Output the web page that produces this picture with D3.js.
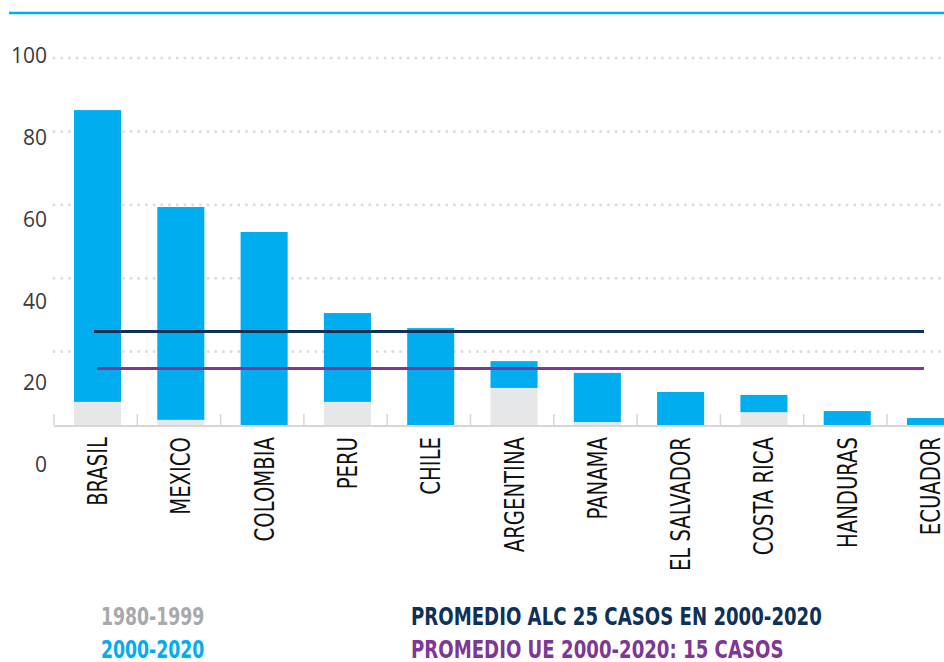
<!DOCTYPE html>
<html>
<head>
<meta charset="utf-8">
<script src="https://cdn.jsdelivr.net/npm/d3@7"></script>
<style>
  body { margin: 0; background: #fff; }
  svg { display: block; }
</style>
</head>
<body>
<div id="wrapper"></div>
<script>
// data
const countries = ["BRASIL", "MEXICO", "COLOMBIA", "PERU", "CHILE", "ARGENTINA",
  "PANAMA", "EL SALVADOR", "COSTA RICA", "HANDURAS", "ECUADOR"]
const cases1980 = [6.3, 1.4, 0, 6.3, 0, 10.1, 0.8, 0, 3.5, 0, 0]
const cases2000 = [79.5, 58.0, 52.6, 24.2, 26.4, 7.3, 13.4, 9.0, 4.7, 3.8, 1.9]
const yTicks = [0, 20, 40, 60, 80, 100]
const averages = [25.5, 15.4]   // ALC, UE
const seriesLabels = ["1980-1999", "2000-2020"]
const averageLabels = ["PROMEDIO ALC 25 CASOS EN 2000-2020", "PROMEDIO UE 2000-2020: 15 CASOS"]

const colors = {
  old: "#e6e7e8",
  recent: "#00aeef",
  alc: "#0f3057",
  ue: "#7e3794",
  legendGrey: "#a7a9ac",
  grid: "#dcdcdc",
  axis: "#d6d6d6",
  text: "#3a3a3a",
}

const width = 944
const height = 662

const dims = {
  left: 54,
  slot: 83.3,
  baseline: 425,
  top: 58,
}

// no narrow font installed, so squeeze a condensed one a bit more
const narrowFont = "'Liberation Sans Narrow', 'DejaVu Sans Condensed', sans-serif"

const wrapper = d3.select("#wrapper")
  .append("svg")
    .attr("width", width)
    .attr("height", height)

// scales
const xScale = d3.scaleBand()
  .domain(countries)
  .range([dims.left, dims.left + dims.slot * countries.length])
  .padding(0)

const yScale = d3.scaleLinear()
  .domain([0, 100])
  .range([dims.baseline, dims.top])

// the tick labels sit on their own, looser spacing in the original
const yLabelScale = d3.scaleLinear()
  .domain([0, 100])
  .range([465, 56])

const barOffset = xScale.bandwidth() * 0.24
const barWidth = xScale.bandwidth() * 0.565

// top rule
wrapper.append("line")
    .attr("x1", 9)
    .attr("x2", width)
    .attr("y1", 13)
    .attr("y2", 13)
    .attr("stroke", colors.recent)
    .attr("stroke-width", 2.5)

// dotted gridlines
wrapper.append("g")
  .selectAll("line")
  .data(yTicks.filter(d => d > 0))
  .join("line")
    .attr("x1", dims.left)
    .attr("x2", width)
    .attr("y1", d => yScale(d))
    .attr("y2", d => yScale(d))
    .attr("stroke", colors.grid)
    .attr("stroke-width", 3)
    .attr("stroke-linecap", "round")
    .attr("stroke-dasharray", "0 7.7")

// y tick labels
const yAxis = wrapper.append("g")
    .attr("transform", "translate(47,0)")
    .call(d3.axisLeft(yLabelScale).tickValues(yTicks).tickSize(0).tickPadding(0))
yAxis.select(".domain").remove()
yAxis.selectAll("text")
    .attr("fill", colors.text)
    .style("font-family", "'Open Sans', sans-serif")
    .style("font-size", "21px")

// stacked bars
const stacked = countries.map((c, i) => ({
  country: c,
  old: cases1980[i],
  recent: cases2000[i],
}))

const bars = wrapper.append("g")
bars.selectAll("rect.old")
  .data(stacked)
  .join("rect")
    .attr("class", "old")
    .attr("x", d => xScale(d.country) + barOffset)
    .attr("width", barWidth)
    .attr("y", d => yScale(d.old))
    .attr("height", d => yScale(0) - yScale(d.old))
    .attr("fill", colors.old)

bars.selectAll("rect.recent")
  .data(stacked)
  .join("rect")
    .attr("class", "recent")
    .attr("x", d => xScale(d.country) + barOffset)
    .attr("width", barWidth)
    .attr("y", d => yScale(d.old + d.recent))
    .attr("height", d => yScale(d.old) - yScale(d.old + d.recent))
    .attr("fill", colors.recent)

// baseline and slot ticks
wrapper.append("line")
    .attr("x1", dims.left)
    .attr("x2", width)
    .attr("y1", yScale(0) + 1)
    .attr("y2", yScale(0) + 1)
    .attr("stroke", colors.axis)
    .attr("stroke-width", 2)

wrapper.append("g")
  .selectAll("line")
  .data(countries)
  .join("line")
    .attr("x1", d => xScale(d))
    .attr("x2", d => xScale(d))
    .attr("y1", yScale(0) - 11)
    .attr("y2", yScale(0))
    .attr("stroke", colors.axis)
    .attr("stroke-width", 1.5)

// average lines
const avgLines = [
  { value: averages[0], color: colors.alc, start: 94 },
  { value: averages[1], color: colors.ue, start: 97 },
]
wrapper.append("g")
  .selectAll("line")
  .data(avgLines)
  .join("line")
    .attr("x1", d => d.start)
    .attr("x2", 924)
    .attr("y1", d => yScale(d.value))
    .attr("y2", d => yScale(d.value))
    .attr("stroke", d => d.color)
    .attr("stroke-width", 3)

// rotated category labels
wrapper.append("g")
  .selectAll("text")
  .data(countries)
  .join("text")
    .attr("transform", d => `translate(${xScale(d) + barOffset + barWidth / 2 + 9.5}, ${yScale(0) + 12}) rotate(-90) scale(0.84,1)`)
    .attr("text-anchor", "end")
    .attr("fill", "#111")
    .style("font-family", narrowFont)
    .style("font-size", "26px")
    .text(d => d)

// legend
wrapper.append("g")
  .selectAll("text")
  .data(seriesLabels)
  .join("text")
    .attr("transform", (d, i) => `translate(101, ${625 + i * 33}) scale(0.8,1)`)
    .attr("fill", (d, i) => i === 0 ? colors.legendGrey : colors.recent)
    .style("font-family", narrowFont)
    .style("font-weight", "bold")
    .style("font-size", "24px")
    .text(d => d)

wrapper.append("g")
  .selectAll("text")
  .data(averageLabels)
  .join("text")
    .attr("transform", (d, i) => `translate(411, ${625 + i * 33}) scale(0.84,1)`)
    .attr("fill", (d, i) => i === 0 ? colors.alc : colors.ue)
    .style("font-family", narrowFont)
    .style("font-weight", "bold")
    .style("font-size", "24px")
    .text(d => d)
</script>
</body>
</html>
